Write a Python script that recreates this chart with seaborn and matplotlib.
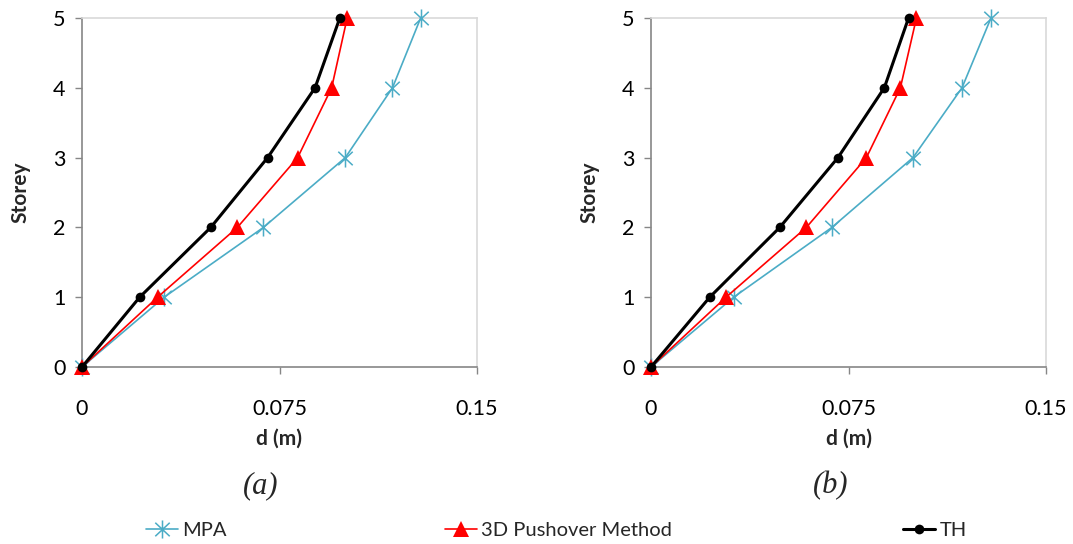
import matplotlib
matplotlib.use("Agg")
import matplotlib.pyplot as plt
from matplotlib.path import Path
from matplotlib.lines import Line2D
import seaborn as sns
import pandas as pd

sns.set_theme(style="white")
plt.rcParams["font.family"] = ["Lato", "DejaVu Sans"]

storey = [0, 1, 2, 3, 4, 5]

# Storey displacements (m), panel (a)
mpa_a = [0.0, 0.0312, 0.0689, 0.1000, 0.1179, 0.1286]
push_a = [0.0, 0.0287, 0.0590, 0.0819, 0.0948, 0.1007]
th_a = [0.0, 0.0219, 0.0489, 0.0705, 0.0885, 0.0979]

# Storey displacements (m), panel (b)
mpa_b = [0.0, 0.0314, 0.0687, 0.0995, 0.1181, 0.1291]
push_b = [0.0, 0.0285, 0.0590, 0.0818, 0.0947, 0.1008]
th_b = [0.0, 0.0223, 0.0489, 0.0710, 0.0886, 0.0978]

series_names = ["MPA", "3D Pushover Method", "TH"]
panel_labels = ["(a)", "(b)"]
x_ticks = [0, 0.075, 0.15]
x_tick_labels = ["0", "0.075", "0.15"]
y_ticks = [0, 1, 2, 3, 4, 5]

teal = "#4BACC6"
red = "#FF0000"
black = "#000000"

# six-armed asterisk: vertical stroke plus a diagonal cross
star = Path(
    [(0, -1), (0, 1), (-0.8, -0.75), (0.8, 0.75), (-0.8, 0.75), (0.8, -0.75)],
    [Path.MOVETO, Path.LINETO, Path.MOVETO, Path.LINETO, Path.MOVETO, Path.LINETO],
)

styles = {
    "MPA": dict(color=teal, marker=star, markersize=13, markeredgewidth=1.1,
                markerfacecolor="none", markeredgecolor=teal, linewidth=1.2),
    "3D Pushover Method": dict(color=red, marker="^", markersize=12, markeredgewidth=0,
                               markerfacecolor=red, linewidth=1.2),
    "TH": dict(color=black, marker="o", markersize=7, markeredgewidth=0,
               markerfacecolor=black, linewidth=2.2),
}

fig = plt.figure(figsize=(10.73, 5.44), dpi=100)
ax_a = fig.add_axes([82 / 1073, 1 - 367 / 544, 395 / 1073, 349 / 544])
ax_b = fig.add_axes([651 / 1073, 1 - 367 / 544, 395 / 1073, 349 / 544])

panels = [
    (ax_a, [mpa_a, push_a, th_a], panel_labels[0], 261 / 1073),
    (ax_b, [mpa_b, push_b, th_b], panel_labels[1], 831 / 1073),
]

for ax, values, plabel, px in panels:
    for name, d in zip(series_names, values):
        df = pd.DataFrame({"d": d, "storey": storey})
        sns.lineplot(data=df, x="d", y="storey", sort=False, estimator=None,
                     ax=ax, clip_on=False, zorder=3, **styles[name])
    ax.set_xlim(0, 0.15)
    ax.set_ylim(0, 5)
    ax.set_xticks(x_ticks)
    ax.set_xticklabels(x_tick_labels)
    ax.set_yticks(y_ticks)
    ax.tick_params(axis="x", direction="out", length=5, width=1, color="#868686",
                   pad=18, labelsize=15.5, labelcolor="black", bottom=True)
    ax.tick_params(axis="y", direction="out", length=5, width=1, color="#868686",
                   pad=7, labelsize=15.5, labelcolor="black", left=True)
    for side in ["left", "bottom"]:
        ax.spines[side].set_color("#868686")
        ax.spines[side].set_linewidth(1.2)
    for side in ["top", "right"]:
        ax.spines[side].set_color("#D9D9D9")
        ax.spines[side].set_linewidth(1.2)
    ax.grid(False)
    ax.set_xlabel("d (m)", fontsize=15, fontweight="bold", labelpad=7)
    ax.set_ylabel("Storey", fontsize=15, fontweight="bold", labelpad=16)
    fig.text(px, 1 - 486 / 544, plabel, ha="center", va="center",
             fontsize=22, style="italic", family=["Liberation Serif"])
    if ax.get_legend() is not None:
        ax.get_legend().remove()

# legend entries spread across the bottom of the figure
legend_x = [146 / 1073, 445 / 1073, 903 / 1073]
for name, lx in zip(series_names, legend_x):
    handle = Line2D([], [], **styles[name])
    fig.legend(handles=[handle], labels=[name], loc="center left",
               bbox_to_anchor=(lx, 1 - 530 / 544), frameon=False, fontsize=14.5,
               handlelength=1.6, handletextpad=0.2, borderaxespad=0, borderpad=0)

fig.savefig("out.png", dpi=100, facecolor="white")
